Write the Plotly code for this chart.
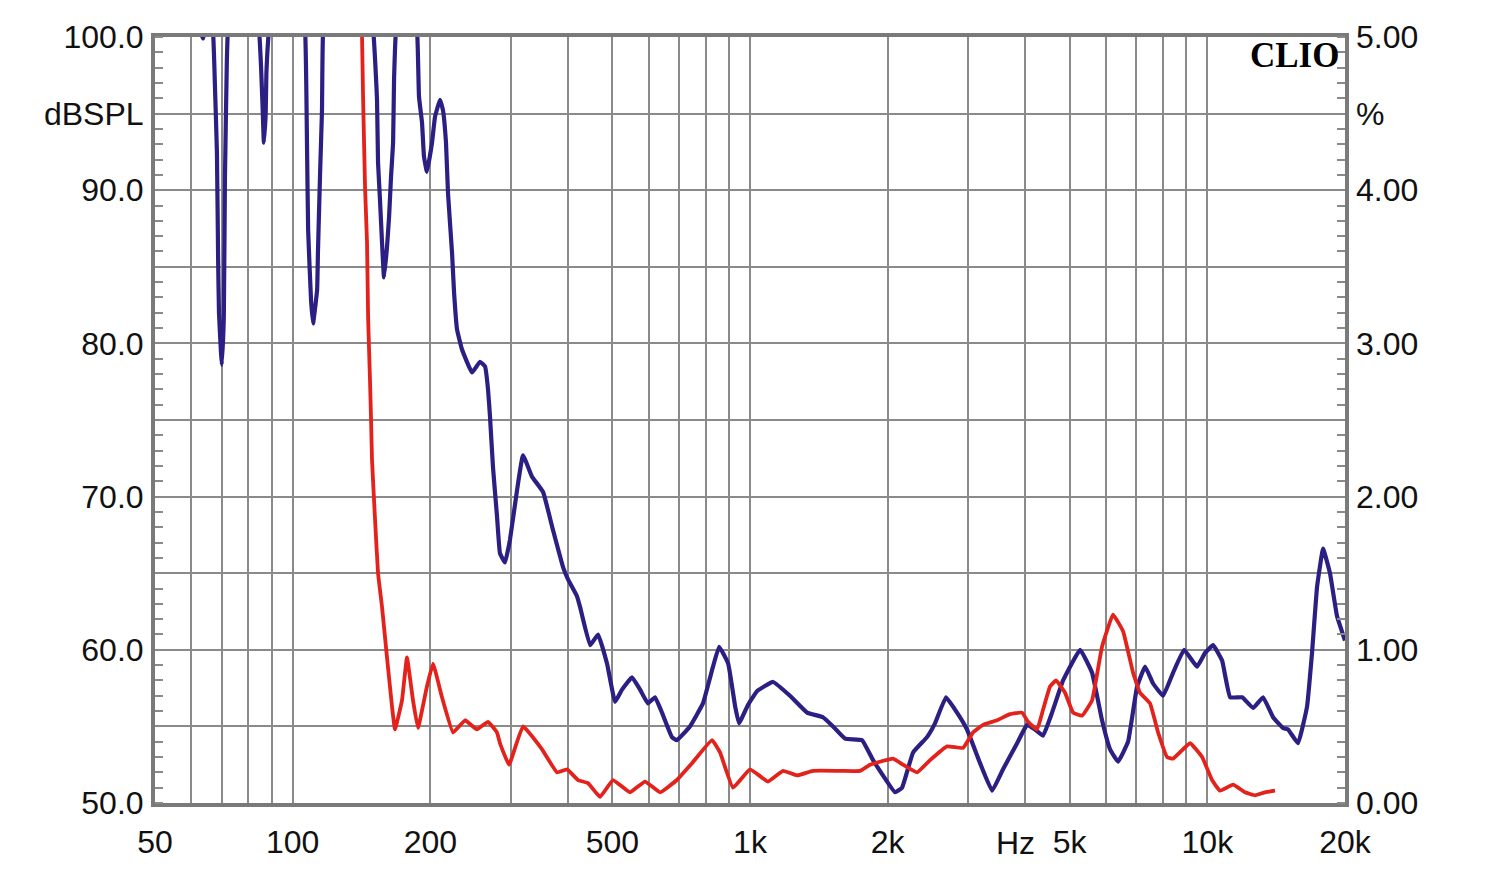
import math
import plotly.graph_objects as go

# Blue curve: frequency response (Hz, dBSPL)
blue_freq = [50, 58, 62, 63.7, 65.2, 66.9, 67.6, 68.3, 68.7, 69.0, 69.7, 70.0, 70.7, 71.1, 71.8, 72.2,
             77, 82, 84.4, 85.3, 86.0, 86.5, 87.3, 87.6, 88.8, 95, 102,
             106.4, 107.5, 108.1, 109.7, 110.8, 113.1, 113.6, 114.8, 115.9, 116.6, 125, 140,
             149.9, 152.9, 153.7, 155.2, 156.8, 158.4, 160.8, 162.5, 164.1, 165.8, 166.6, 168.3, 176,
             187.0, 188.9, 191.8, 193.7, 196.6, 201.7, 204.8, 210.0, 213.2, 216.4, 218.6, 223.1, 225.4,
             228.8, 234.6, 246.7, 256.8, 263.4, 267.4, 270.1, 274.2, 279.8, 284.0, 291.3, 298.7, 309.4,
             318.9, 333.7, 352.8, 371.0, 390.1, 400, 418.5, 425, 447, 465.3, 486.8, 507, 525, 552, 575,
             598, 620, 642, 675, 692, 739, 789, 830, 856, 896, 928, 946, 990, 1036, 1123, 1223, 1333,
             1444, 1519, 1614, 1758, 1858, 2076, 2150, 2273, 2438, 2538, 2683, 2836, 2982, 3185, 3383,
             3575, 3837, 4035, 4201, 4374, 4576, 4837, 5270, 5597, 5885, 6128, 6381, 6709, 7021, 7310,
             7610, 8004, 8415, 8896, 9494, 9886, 10295, 10772, 11216, 11917, 12591, 13238, 13922,
             14639, 15014, 15788, 16522, 16940, 17375, 17910, 18543, 19211, 20000]
blue_db = [106, 102, 100.8, 99.9, 101.5, 100.5, 96.9, 92.4, 85.6, 82.0, 79.4, 78.6, 81.7, 90.7, 98.5, 100.5,
           106, 103, 100.5, 98.0, 95.2, 93.1, 95.0, 97.6, 100.5, 106, 103,
           100.5, 92.8, 87.4, 82.8, 81.3, 83.5, 86.1, 91.1, 95.2, 100.5, 106, 104,
           100.5, 95.9, 91.8, 89.4, 86.6, 84.3, 86.3, 88.3, 90.9, 93.1, 97.2, 100.5, 104,
           100.5, 96.1, 94.4, 92.2, 91.2, 93.1, 94.8, 95.9, 95.2, 93.1, 89.8, 85.9, 83.3,
           80.9, 79.6, 78.1, 78.8, 78.5, 77.0, 75.2, 71.9, 68.7, 66.3, 65.7, 67.2, 70.4,
           72.7, 71.3, 70.3, 67.8, 65.4, 64.6, 63.5, 62.8, 60.3, 61.0, 59.1, 56.6, 57.4, 58.2, 57.4,
           56.5, 56.9, 55.9, 54.3, 54.1, 55.0, 56.5, 58.9, 60.2, 59.1, 56.3, 55.2, 56.4, 57.3, 57.9, 57.0, 55.9,
           55.6, 55.0, 54.2, 54.1, 52.8, 50.7, 51.0, 53.3, 54.3, 55.2, 56.9, 55.9, 54.8, 52.6, 50.8,
           52.2, 53.9, 55.1, 54.8, 54.4, 55.9, 58.0, 60.0, 58.5, 55.4, 53.5, 52.7, 54.0, 57.6, 58.9,
           57.8, 57.0, 58.5, 60.0, 58.9, 59.8, 60.3, 59.3, 56.9, 56.9, 56.2, 56.9, 55.6,
           54.9, 54.8, 53.9, 56.3, 59.8, 64.1, 66.6, 65.0, 62.2, 60.6]

# Red curve: distortion (Hz, %)
red_freq = [139, 141.8, 142.5, 144.0, 145.4, 146.2, 147.6, 148.4, 149.1, 151.4, 153.7, 156.8, 160.8,
            164.9, 167.4, 173.4, 177.8, 183.3, 187.9, 196.6, 202.7, 212.1, 224.3, 238.2, 252.9,
            267.4, 279.8, 284.0, 297.2, 318.9, 351.0, 378.5, 398, 420.7, 442.4, 470.0, 501.7,
            546.6, 589.5, 635.9, 692, 747, 826, 860, 918, 1000, 1095, 1181, 1267, 1373, 1574,
            1740, 1830, 2055, 2161, 2319, 2476, 2697, 2923, 3074, 3233, 3469, 3703, 3934, 4055,
            4243, 4374, 4530, 4669, 4885, 5086, 5321, 5597, 5885, 6220, 6545, 6881, 7125, 7494,
            7805, 8166, 8415, 9170, 9741, 10240, 10659, 11386, 12091, 12717, 13374, 14060]
red_pct = [5.6, 5.0, 4.63, 4.01, 3.66, 3.17, 2.76, 2.50, 2.24, 1.85, 1.50, 1.28, 0.95,
           0.63, 0.48, 0.67, 0.95, 0.67, 0.49, 0.76, 0.91, 0.69, 0.46, 0.54, 0.48,
           0.53, 0.46, 0.39, 0.25, 0.50, 0.35, 0.20, 0.22, 0.15, 0.13, 0.04, 0.15,
           0.07, 0.14, 0.07, 0.15, 0.26, 0.41, 0.33, 0.10, 0.22, 0.14, 0.21, 0.18, 0.21, 0.21,
           0.21, 0.25, 0.29, 0.25, 0.20, 0.28, 0.37, 0.36, 0.46, 0.51, 0.54, 0.58, 0.59, 0.53,
           0.48, 0.61, 0.76, 0.80, 0.72, 0.59, 0.57, 0.67, 1.02, 1.23, 1.12, 0.85, 0.72, 0.65,
           0.46, 0.30, 0.29, 0.39, 0.30, 0.15, 0.08, 0.12, 0.07, 0.05, 0.07, 0.08]

x_grid = [50, 60, 70, 80, 90, 100, 200, 300, 400, 500, 600, 700, 800, 900,
          1000, 2000, 3000, 4000, 5000, 6000, 7000, 8000, 9000, 10000, 20000]
x_labels = {50: "50", 100: "100", 200: "200", 500: "500", 1000: "1k", 2000: "2k",
            5000: "5k", 10000: "10k", 20000: "20k"}
y_grid = [50, 55, 60, 65, 70, 75, 80, 85, 90, 95, 100]
y_labels = {50: "50.0", 60: "60.0", 70: "70.0", 80: "80.0", 90: "90.0", 95: "dBSPL", 100: "100.0"}
y2_grid = [0, 0.5, 1, 1.5, 2, 2.5, 3, 3.5, 4, 4.5, 5]
y2_labels = {0: "0.00", 1: "1.00", 2: "2.00", 3: "3.00", 4: "4.00", 4.5: "%", 5: "5.00"}

GRID = "#8a8a8a"
FONT = dict(family="Liberation Sans, Arial, sans-serif", size=32, color="#111111")

fig = go.Figure()
fig.add_trace(go.Scatter(x=red_freq, y=red_pct, yaxis="y2", mode="lines",
                         line=dict(color="#e3221b", width=3.8, shape="spline", smoothing=0.3),
                         hoverinfo="skip"))
fig.add_trace(go.Scatter(x=blue_freq, y=blue_db, mode="lines",
                         line=dict(color="#2b1f84", width=4.2, shape="spline", smoothing=0.3),
                         hoverinfo="skip"))

fig.update_layout(
    width=1500, height=877,
    margin=dict(l=155, r=155, t=37, b=74),
    paper_bgcolor="white", plot_bgcolor="white",
    showlegend=False,
    font=FONT,
    xaxis=dict(type="log", range=[math.log10(50), math.log10(20000)],
               tickmode="array", tickvals=x_grid,
               ticktext=[x_labels.get(v, "") for v in x_grid],
               showgrid=True, gridcolor=GRID, gridwidth=2,
               showline=True, linecolor="#7a7a7a", linewidth=4, mirror=True,
               ticks="", ticklabelstandoff=8, tickfont=FONT, zeroline=False),
    yaxis=dict(range=[50, 100], tickmode="array", tickvals=y_grid,
               ticktext=[y_labels.get(v, "") for v in y_grid],
               showgrid=True, gridcolor=GRID, gridwidth=2,
               showline=True, linecolor="#7a7a7a", linewidth=4, mirror=True,
               ticks="", ticklabelstandoff=1, tickfont=FONT, zeroline=False,
               minor=dict(tickmode="linear", tick0=50, dtick=1, ticks="inside",
                          ticklen=8, tickcolor=GRID, tickwidth=2, showgrid=False)),
    yaxis2=dict(range=[0, 5], overlaying="y", side="right", tickmode="array",
                tickvals=y2_grid, ticktext=[y2_labels.get(v, "") for v in y2_grid],
                showgrid=False, showline=False, ticks="", ticklabelstandoff=10,
                tickfont=FONT, zeroline=False,
                minor=dict(tickmode="linear", tick0=0, dtick=0.1, ticks="inside",
                           ticklen=8, tickcolor=GRID, tickwidth=2, showgrid=False)),
    annotations=[
        dict(text="<b>CLIO</b>", xref="paper", yref="paper", x=0.9966, y=0.976,
             xanchor="right", yanchor="middle", showarrow=False,
             font=dict(family="Liberation Serif, DejaVu Serif, serif", size=35, color="#000000")),
        dict(text="Hz", xref="x", yref="paper", x=math.log10(3800), y=0, yshift=-40,
             xanchor="center", yanchor="middle", showarrow=False, font=FONT),
    ],
)

fig.write_html("out.html")
